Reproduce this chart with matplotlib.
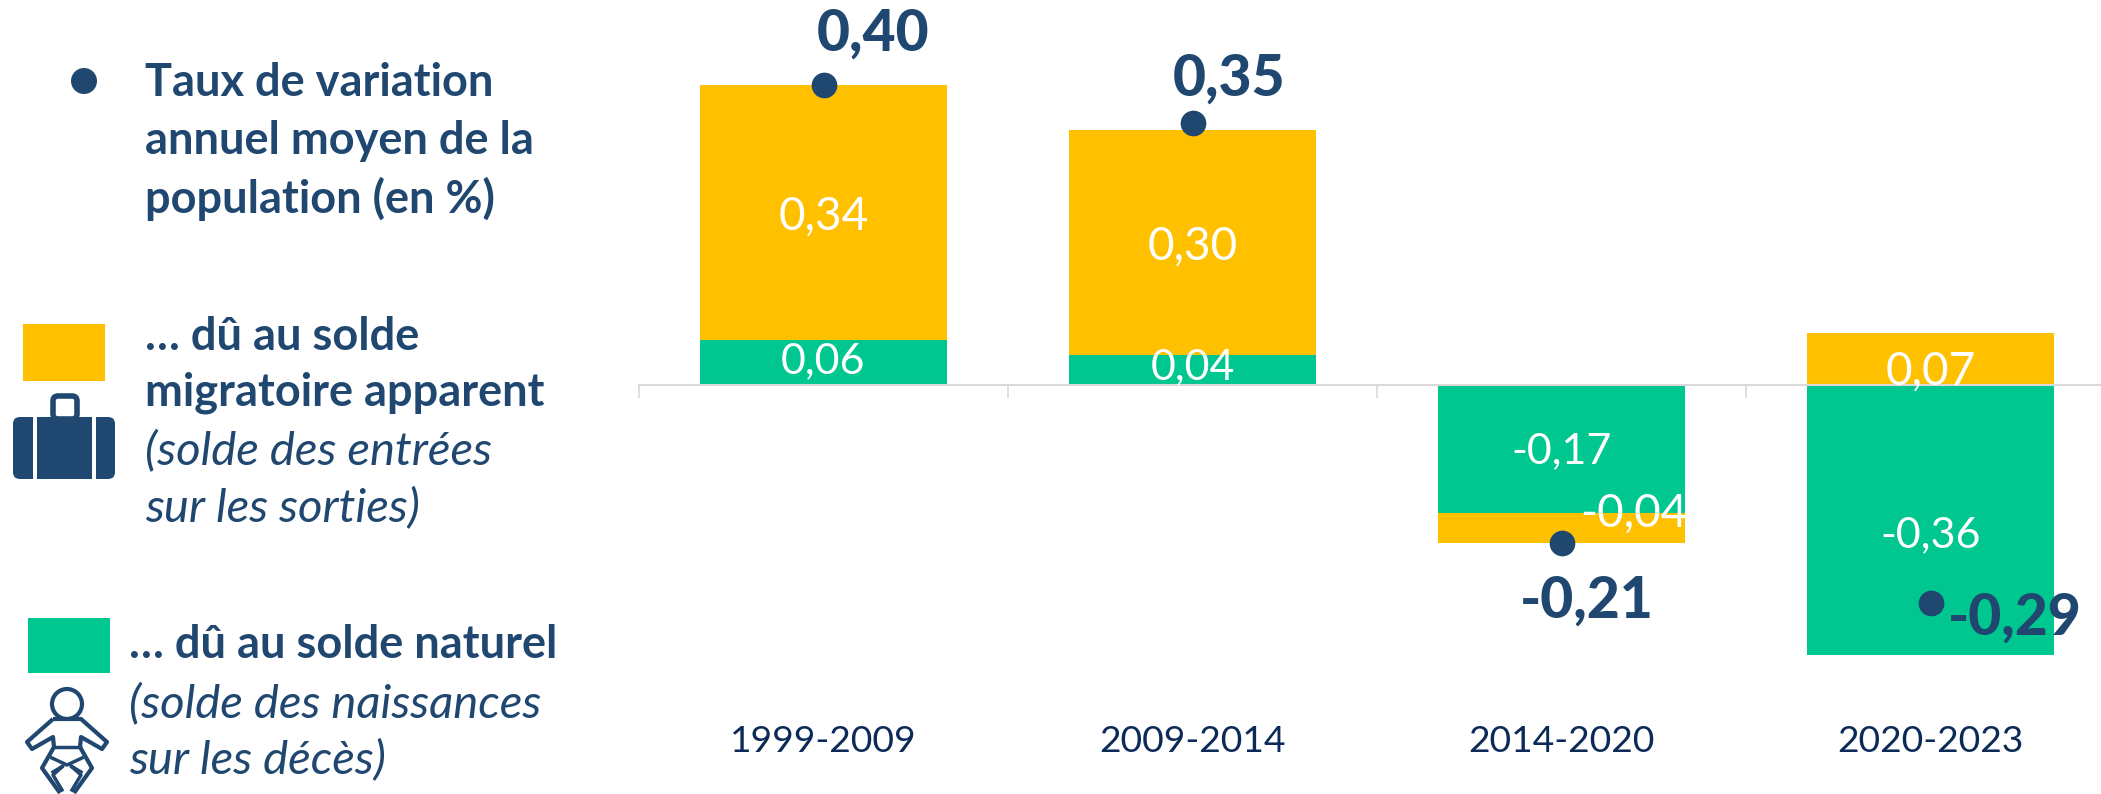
import matplotlib
matplotlib.use("Agg")
import matplotlib.pyplot as plt
from matplotlib.patches import Rectangle, FancyBboxPatch, Circle, PathPatch
from matplotlib.path import Path

plt.rcParams['font.family'] = ['Lato', 'DejaVu Sans']

periods = ["1999-2009", "2009-2014", "2014-2020", "2020-2023"]
naturel = [0.06, 0.04, -0.17, -0.36]
migratoire = [0.34, 0.30, -0.04, 0.07]
total = [0.40, 0.35, -0.21, -0.29]

NAVY = "#1F4770"
YEL = "#FFC000"
GRN = "#00C78F"
W, H = 2101, 794

fig = plt.figure(figsize=(W / 100, H / 100), dpi=100, facecolor="white")
ax = fig.add_axes([639 / W, 0, 1476 / W, 1])
ax.set_xlim(-0.5, 3.5)
ax.set_ylim(-(H - 385) / 750, 385 / 750)
ax.patch.set_alpha(0)

x = list(range(len(periods)))
bw = 0.667
bottoms = [n if (n > 0) == (m > 0) else 0 for n, m in zip(naturel, migratoire)]
ax.bar(x, naturel, bw, color=GRN, zorder=2)
ax.bar(x, migratoire, bw, bottom=bottoms, color=YEL, zorder=2)
ax.plot(x, total, ls="", marker="o", ms=18.5, color=NAVY, mew=0, zorder=4)

for s in ("top", "left", "right"):
    ax.spines[s].set_visible(False)
ax.spines["bottom"].set_position(("data", 0))
ax.spines["bottom"].set_color("#D9D9D9")
ax.spines["bottom"].set_linewidth(1.5)
ax.spines["bottom"].set_zorder(3)
ax.set_yticks([])
ax.set_xticks([i - 0.5 for i in x] + [3.5])
ax.set_xticklabels([])
ax.tick_params(axis="x", which="major", length=9, width=1.2, color="#D9D9D9")
ax.set_xticks(x, minor=True)
ax.set_xticklabels(periods, minor=True, fontsize=26.8, color="#0B2A57")
ax.tick_params(axis="x", which="minor", length=0, pad=245)

# Value labels: offsets in points from the centre of each segment
nat_off = [(0, 1), (0, 2), (0, -2), (0, -11)]
mig_off = [(0, -3), (0, -3), (52, 10), (0, -9)]
tot_off = [(36, 37), (26, 31), (18, -42), (61, -11)]
for i in x:
    ax.annotate(f"{naturel[i]:.2f}".replace(".", ","), (i, naturel[i] / 2), xytext=nat_off[i],
                textcoords="offset points", ha="center", va="center", color="white", fontsize=31, zorder=5)
    ax.annotate(f"{migratoire[i]:.2f}".replace(".", ","), (i, bottoms[i] + migratoire[i] / 2), xytext=mig_off[i],
                textcoords="offset points", ha="center", va="center", color="white", fontsize=33, zorder=5)
    ax.annotate(f"{total[i]:.2f}".replace(".", ","), (i, total[i]), xytext=tot_off[i],
                textcoords="offset points", ha="center", va="center", color=NAVY, fontsize=41,
                fontweight="black", zorder=6)

# Legend overlay, in pixels
ov = fig.add_axes([0, 0, 1, 1], zorder=10)
ov.set_xlim(0, W)
ov.set_ylim(H, 0)
ov.axis("off")
ov.patch.set_alpha(0)

ov.add_patch(Circle((84, 81), 13, color=NAVY, lw=0))
ov.add_patch(Rectangle((23, 324), 82, 57, color=YEL, lw=0))
ov.add_patch(Rectangle((28, 618), 82, 55, color=GRN, lw=0))

lines = [
    (145, 83, "Taux de variation", "bold"),
    (145, 141, "annuel moyen de la", "bold"),
    (145, 199, "population (en %)", "bold"),
    (145, 337, "… dû au solde", "bold"),
    (145, 393, "migratoire apparent", "bold"),
    (145, 451, "(solde des entrées", "it"),
    (145, 508, "sur les sorties)", "it"),
    (129, 645, "… dû au solde naturel", "bold"),
    (129, 704, "(solde des naissances", "it"),
    (129, 760, "sur les décès)", "it"),
]
for lx, ly, t, kind in lines:
    ov.text(lx, ly, t, color=NAVY, va="center", ha="left",
            fontsize=32.5 if kind == "bold" else 34,
            fontweight="bold" if kind == "bold" else "normal",
            fontstyle="italic" if kind == "it" else "normal")

# Suitcase icon
ov.add_patch(FancyBboxPatch((13, 417), 102, 62, boxstyle="round,pad=0,rounding_size=7", fc=NAVY, ec="none"))
ov.add_patch(Rectangle((33, 415), 4, 66, fc="white", ec="none"))
ov.add_patch(Rectangle((92, 415), 4, 66, fc="white", ec="none"))
ov.add_patch(FancyBboxPatch((53, 396), 24, 23, boxstyle="round,pad=0,rounding_size=5", fc="none", ec=NAVY, lw=4))

# Baby icon
ic = dict(fc="none", ec=NAVY, lw=3, joinstyle="round")
ov.add_patch(Circle((67, 704), 15, **ic))
body = [(53, 719), (81, 719), (107, 742), (102, 749), (81, 737), (80, 747), (92, 768), (74, 793)]
left = [(53, 719), (27, 742), (32, 749), (53, 737), (54, 747), (42, 768), (60, 793)]
ov.add_patch(PathPatch(Path(body), **ic))
ov.add_patch(PathPatch(Path(left), **ic))
ov.plot([54, 80], [747, 747], color=NAVY, lw=2.5)
ov.plot([52, 67, 82], [758, 765, 758], color=NAVY, lw=2.5)
ov.plot([53, 63, 53, 62], [772, 766, 775, 790], color=NAVY, lw=2.5)
ov.plot([81, 71, 81, 72], [772, 766, 775, 790], color=NAVY, lw=2.5)

fig.savefig("out.png", dpi=100, facecolor="white")
